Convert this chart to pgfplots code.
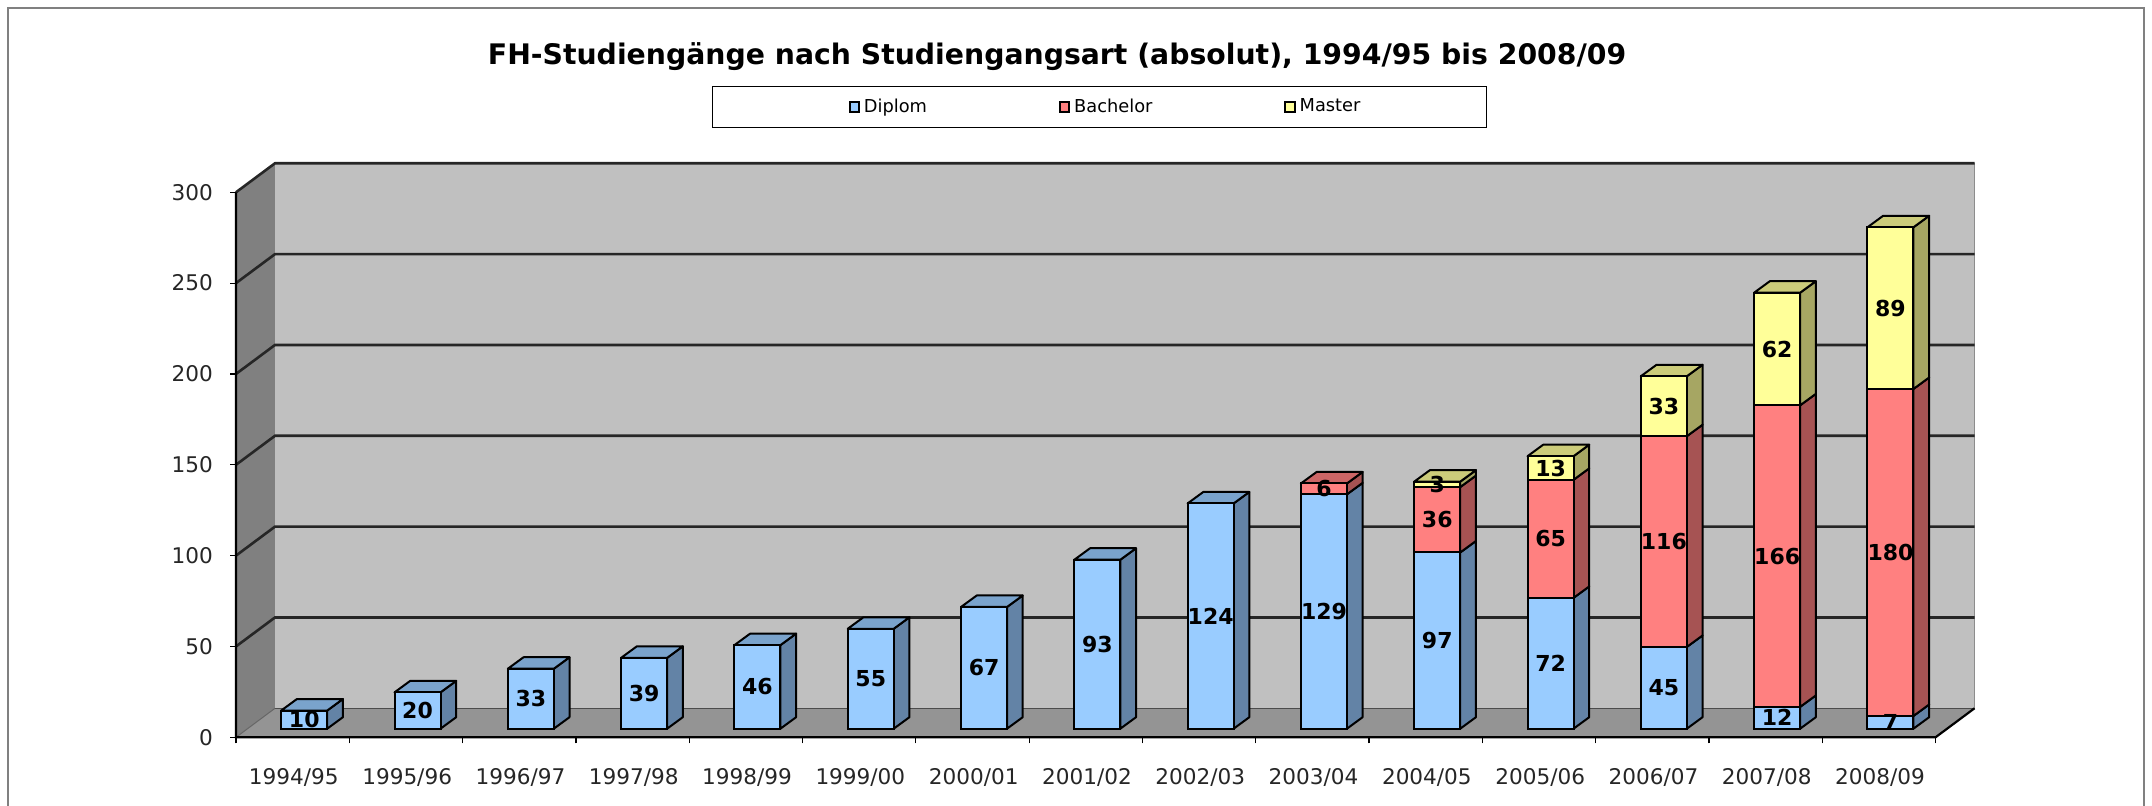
\documentclass[border=0pt]{standalone}
\usepackage{fontspec}
\setmainfont{DejaVu Sans}
\usepackage{pgfplots}
\usepackage{pgfplotstable}
\pgfplotsset{compat=1.18}

\definecolor{blueF}{HTML}{99CCFF}\definecolor{blueS}{HTML}{6383A6}\definecolor{blueT}{HTML}{7AA3CC}
\definecolor{redF}{HTML}{FF8080}\definecolor{redS}{HTML}{A65353}\definecolor{redT}{HTML}{CC6666}
\definecolor{yelF}{HTML}{FFFF99}\definecolor{yelS}{HTML}{A6A663}\definecolor{yelT}{HTML}{CCCC7A}
\definecolor{wall}{HTML}{C0C0C0}\definecolor{lwall}{HTML}{808080}\definecolor{floorc}{HTML}{949494}

\pgfplotstableread{
x    d   b   m
0.5  10  0   0
1.5  20  0   0
2.5  33  0   0
3.5  39  0   0
4.5  46  0   0
5.5  55  0   0
6.5  67  0   0
7.5  93  0   0
8.5  124 0   0
9.5  129 6   0
10.5 97  36  3
11.5 72  65  13
12.5 45  116 33
13.5 12  166 62
14.5 7   180 89
}\data

% wall depth and bar depth in axis units
\def\wx{0.344}\def\wy{15.96}
\def\ox{0.102}\def\oy{4.73}
\def\hb{0.203}\def\bx{0.1386}\def\by{6.33}

% side face of one segment: x centre, y from, y to, colour
\newcommand{\sideface}[4]{%
  \pgfmathsetmacro\xa{#1+\ox+\hb}\pgfmathsetmacro\xb{\xa+\bx}%
  \pgfmathsetmacro\ya{#2+\oy}\pgfmathsetmacro\yb{#3+\oy}%
  \pgfmathsetmacro\yc{\ya+\by}\pgfmathsetmacro\yd{\yb+\by}%
  \addplot[fill=#4,draw=black,line width=1pt,line join=round,forget plot]
    coordinates {(\xa,\ya)(\xb,\yc)(\xb,\yd)(\xa,\yb)} --cycle;
}
% top face of a stack: x centre, y, colour
\newcommand{\topface}[3]{%
  \pgfmathsetmacro\xa{#1+\ox-\hb}\pgfmathsetmacro\xb{#1+\ox+\hb}%
  \pgfmathsetmacro\xc{\xa+\bx}\pgfmathsetmacro\xd{\xb+\bx}%
  \pgfmathsetmacro\ya{#2+\oy}\pgfmathsetmacro\yb{\ya+\by}%
  \addplot[fill=#3,draw=black,line width=1pt,line join=round,forget plot]
    coordinates {(\xa,\ya)(\xc,\yb)(\xd,\yb)(\xb,\ya)} --cycle;
}

\begin{document}
\begin{tikzpicture}
\useasboundingbox (0,0) rectangle (1076pt,403pt);
\draw[lwall,line width=0.7pt] (4pt,0pt) -- (4pt,399pt) -- (1072pt,399pt) -- (1072pt,0pt);

% walls, floor, grid, side and top faces
\begin{axis}[
  at={(118pt,34.35pt)},anchor=south west,
  scale only axis,width=869.25pt,height=287pt,
  xmin=0,xmax=15.344,ymin=0,ymax=315.96,
  clip=false,
  axis line style={draw=none},
  tick align=outside,tick pos=left,
  ytick={0,50,...,300},
  xtick={0.5,1.5,...,14.5},
  xticklabels={1994/95,1995/96,1996/97,1997/98,1998/99,1999/00,2000/01,2001/02,2002/03,2003/04,2004/05,2005/06,2006/07,2007/08,2008/09},
  minor xtick={0,1,...,15},
  major tick length=3pt,minor tick length=3pt,
  major x tick style={draw=none},
  every tick/.style={black,line width=0.6pt},
  minor tick style={black,line width=0.6pt},
  /pgf/number format/assume math mode=true,
  ticklabel style={font=\fontsize{10.8}{12}\selectfont,text=black!85},
  xticklabel style={yshift=-9pt,xshift=0.6pt},
  yticklabel style={xshift=-5pt},
]
\addplot[fill=lwall,draw=none,forget plot] coordinates {(0,0)(0.344,15.96)(0.344,315.96)(0,300)} --cycle;
\addplot[fill=wall,draw=none,forget plot] coordinates {(0.344,15.96)(15.344,15.96)(15.344,315.96)(0.344,315.96)} --cycle;
\addplot[fill=floorc,draw=none,forget plot] coordinates {(0,0)(15,0)(15.344,15.96)(0.344,15.96)} --cycle;
\addplot[draw=gray!90,line width=0.8pt,forget plot] coordinates {(15.344,15.96)(15.344,315.96)};
\addplot[draw=black!70,line width=0.7pt,forget plot] coordinates {(0.344,15.96)(15.344,15.96)};
\addplot[draw=black!60,line width=0.5pt,forget plot] coordinates {(0,0)(0.344,15.96)};
\foreach \v in {50,100,150,200,250,300}{
  \pgfmathsetmacro\vb{\v+\wy}
  \addplot[draw=black!85,line width=1.3pt,forget plot] coordinates {(0,\v)(0.344,\vb)(15.344,\vb)};
}
\addplot[draw=black,line width=1.1pt,forget plot] coordinates {(0,300)(0,0)(15,0)(15.344,15.96)};
\foreach \r in {0,...,14}{
  \pgfplotstablegetelem{\r}{x}\of\data\let\cx\pgfplotsretval
  \pgfplotstablegetelem{\r}{d}\of\data\let\vd\pgfplotsretval
  \pgfplotstablegetelem{\r}{b}\of\data\let\vb\pgfplotsretval
  \pgfplotstablegetelem{\r}{m}\of\data\let\vm\pgfplotsretval
  \pgfmathsetmacro\sb{\vd+\vb}
  \pgfmathsetmacro\sm{\sb+\vm}
  \sideface{\cx}{0}{\vd}{blueS}
  \ifnum\vb>0 \sideface{\cx}{\vd}{\sb}{redS}\fi
  \ifnum\vm>0 \sideface{\cx}{\sb}{\sm}{yelS}\topface{\cx}{\sm}{yelT}%
  \else\ifnum\vb>0 \topface{\cx}{\sb}{redT}\else\topface{\cx}{\vd}{blueT}\fi\fi
}
\end{axis}

% front faces of the stacked bars, values, legend, title
\begin{axis}[
  at={(123.8pt,38.65pt)},anchor=south west,
  scale only axis,width=849.75pt,height=272.5pt,
  xmin=0,xmax=15,ymin=0,ymax=300,
  hide axis,clip=false,
  ybar stacked,bar width=0.406,
  title={FH-Studiengänge nach Studiengangsart (absolut), 1994/95 bis 2008/09},
  title style={at={(0.4763,1.211)},anchor=center,font=\fontsize{14.15}{16}\selectfont\bfseries},
  /pgf/number format/assume math mode=true,
  nodes near coords={\pgfmathfloatifflags{\pgfplotspointmeta}{0}{}{\pgfmathprintnumber{\pgfplotspointmeta}}},
  every node near coord/.append style={anchor=center,font=\fontsize{11}{12}\selectfont\bfseries,text=black},
  legend columns=3,
  legend style={at={(0.5013,1.1407)},anchor=center,draw=black,line width=0.6pt,fill=white,
     font=\fontsize{8.9}{10}\selectfont,inner xsep=61.2pt,inner ysep=4.2pt,
     /tikz/every even column/.append style={column sep=64pt}},
]
\addplot[fill=blueF,draw=black,line width=1pt,
  legend image code/.code={\path (-7pt,0pt);\draw[fill=blueF,draw=black,line width=1pt] (0pt,-2.3pt) rectangle (4.6pt,2.3pt);}]
  table[x=x,y=d] {\data};
\addplot[fill=redF,draw=black,line width=1pt,
  legend image code/.code={\draw[fill=redF,draw=black,line width=1pt] (0pt,-2.3pt) rectangle (4.6pt,2.3pt);}]
  table[x=x,y=b] {\data};
\addplot[fill=yelF,draw=black,line width=1pt,
  legend image code/.code={\draw[fill=yelF,draw=black,line width=1pt] (0pt,-2.3pt) rectangle (4.6pt,2.3pt);}]
  table[x=x,y=m] {\data};
\legend{Diplom,Bachelor,Master}
\end{axis}
\end{tikzpicture}
\end{document}
